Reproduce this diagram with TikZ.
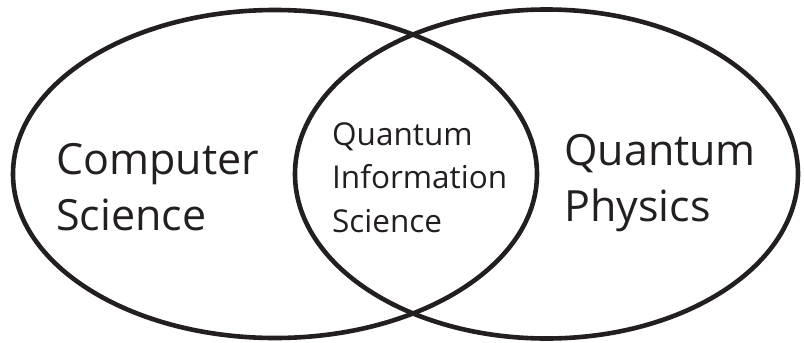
\documentclass[tikz,border=0pt]{standalone}
\usepackage{fontspec}
\setmainfont{Open Sans}
\definecolor{ink}{HTML}{231F20}
\begin{document}
\begin{tikzpicture}[x=1pt,y=-1pt,
  set/.style={draw=ink,line width=4.6pt},
  biglabel/.style={anchor=base west,inner sep=0pt,text=ink,
    font=\fontsize{43}{56}\selectfont},
  smalllabel/.style={anchor=base west,inner sep=0pt,text=ink,
    font=\fontsize{31.5}{43.5}\selectfont}]
  \useasboundingbox (0,0) rectangle (804,343);
  % the two overlapping sets
  \draw[set] (275,174) ellipse [x radius=262pt, y radius=164pt];
  \draw[set] (546.5,174) ellipse [x radius=251.5pt, y radius=164.5pt];
  % set labels (first baseline at the node's anchor)
  \node[biglabel] (cs) at (56,174)
    {\begin{tabular}[t]{@{}l@{}}Computer\\Science\end{tabular}};
  \node[smalllabel] (qis) at (332,145)
    {\begin{tabular}[t]{@{}l@{}}Quantum\\Information\\Science\end{tabular}};
  \node[biglabel] (qp) at (564,165)
    {\begin{tabular}[t]{@{}l@{}}Quantum\\Physics\end{tabular}};
\end{tikzpicture}
\end{document}
